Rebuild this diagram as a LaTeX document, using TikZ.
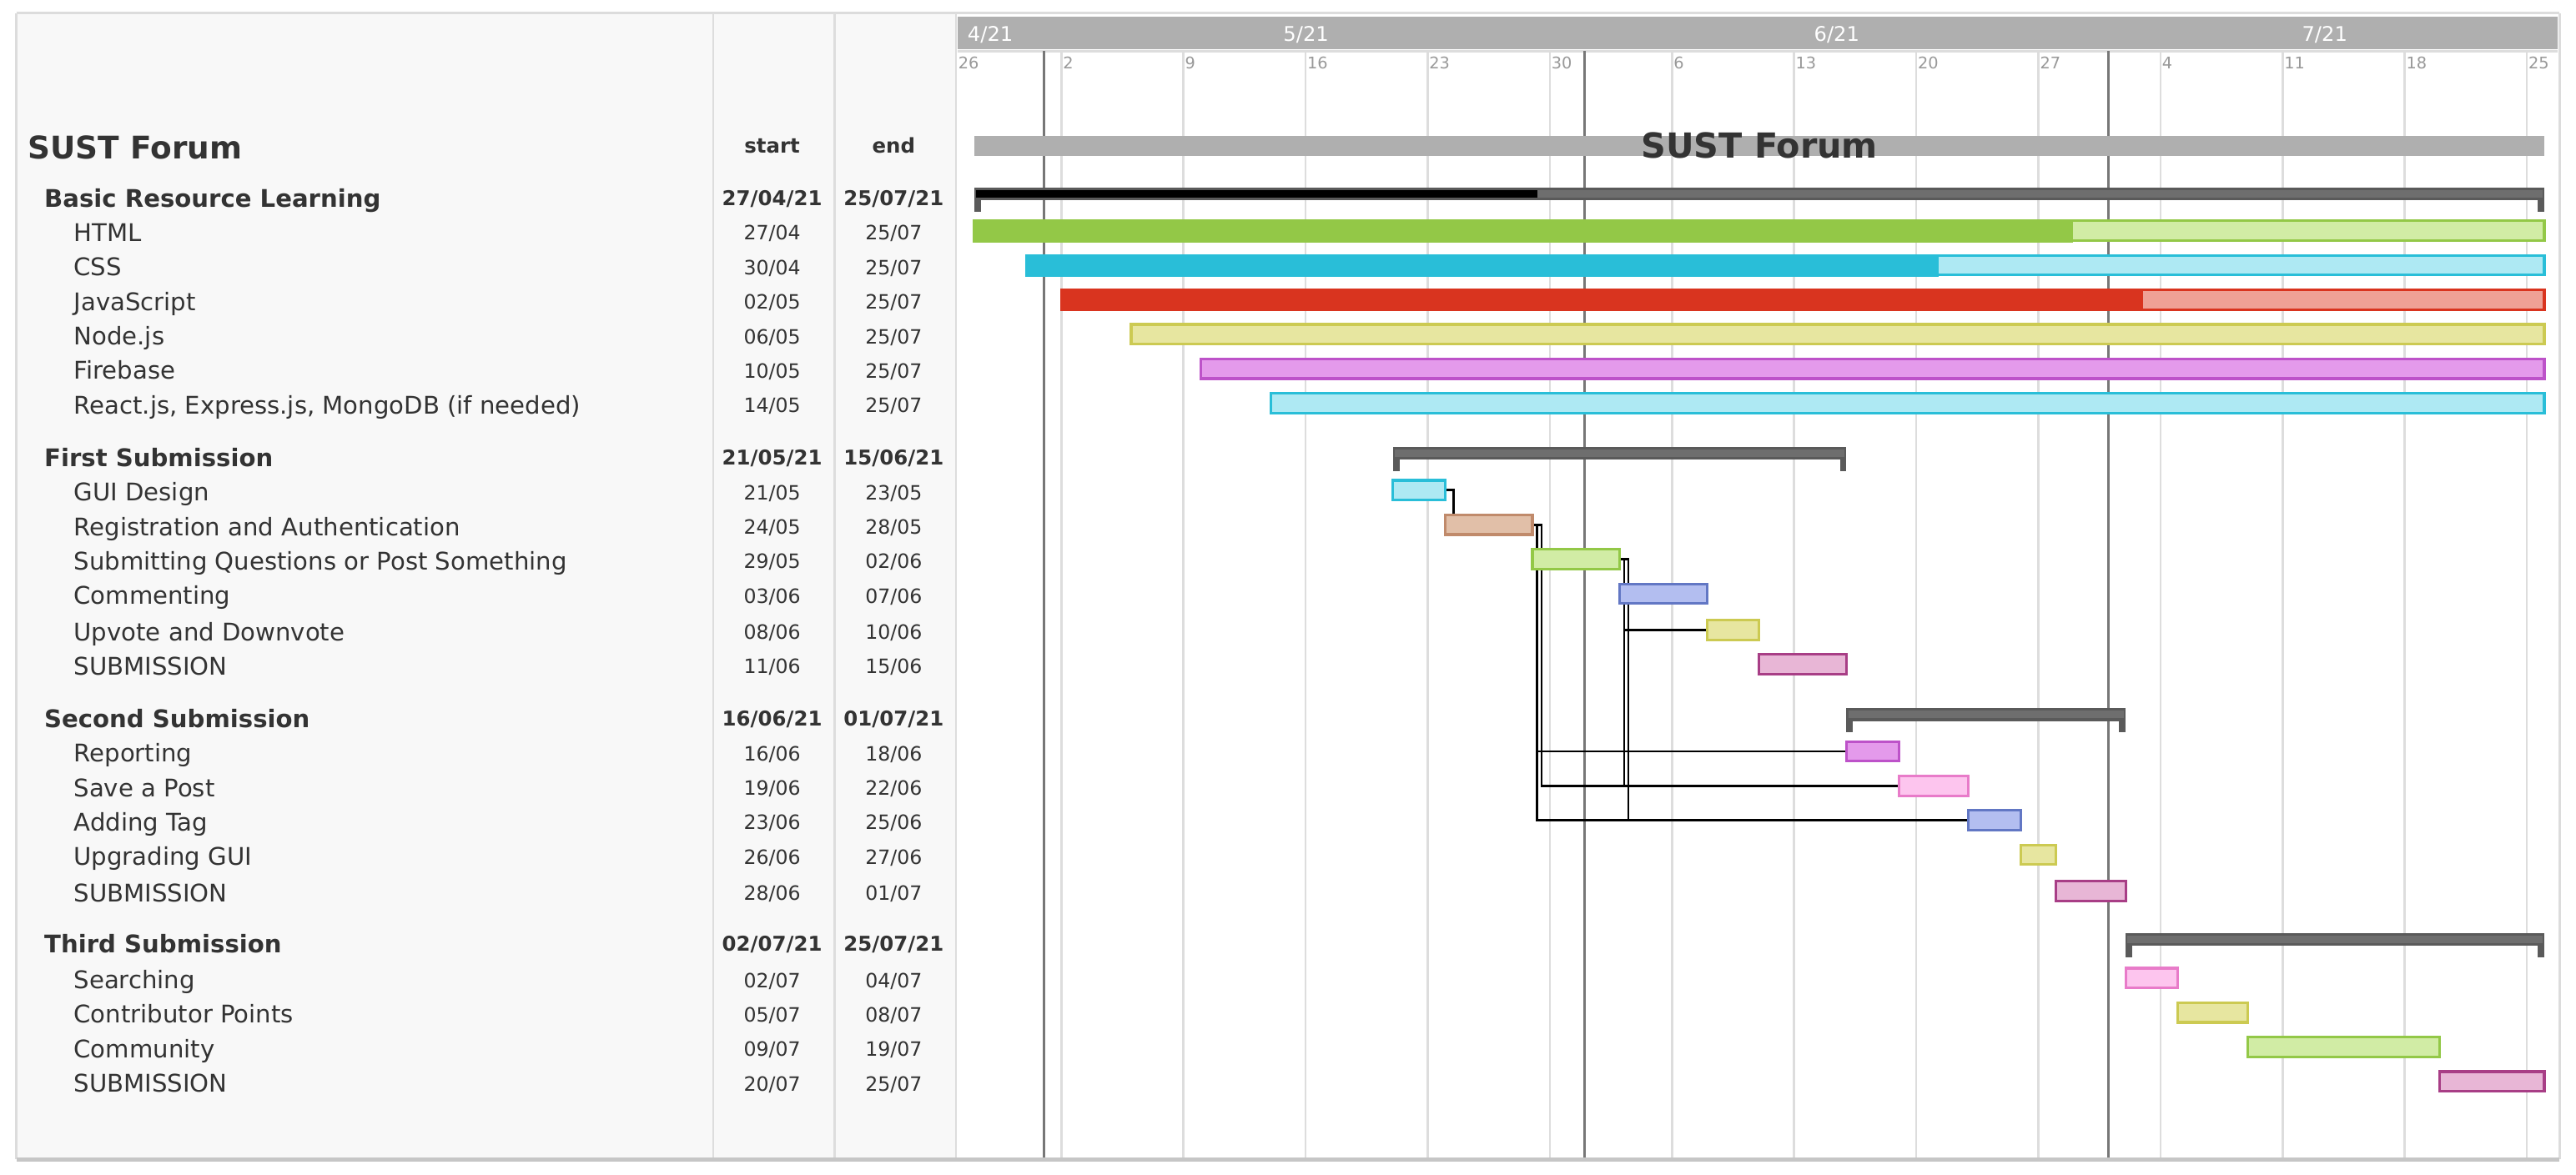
\documentclass[tikz,border=0pt]{standalone}
\usepackage{fontspec}
\setmainfont{DejaVu Sans}
\usetikzlibrary{calc}
\pgfdeclarelayer{grid}
\pgfdeclarelayer{conn}
\pgfsetlayers{grid,conn,main}
\definecolor{txt}{HTML}{333333}
\definecolor{panel}{HTML}{F8F8F8}
\definecolor{frame}{HTML}{DCDCDC}
\definecolor{hdr}{HTML}{AFAFAF}
\definecolor{gridc}{HTML}{DDDDDD}
\definecolor{monthc}{HTML}{777777}
\definecolor{dayc}{HTML}{999999}
\definecolor{sumD}{HTML}{5A5A5A}
\definecolor{sumL}{HTML}{6E6E6E}
\definecolor{grD}{HTML}{93C847}
\definecolor{grL}{HTML}{D1ECA5}
\definecolor{cyD}{HTML}{29BED8}
\definecolor{cyL}{HTML}{AEE9F3}
\definecolor{rdD}{HTML}{D9341F}
\definecolor{rdL}{HTML}{EFA196}
\definecolor{yeD}{HTML}{CCCA52}
\definecolor{yeL}{HTML}{E7E6A0}
\definecolor{maD}{HTML}{BD52C9}
\definecolor{maL}{HTML}{E49AEB}
\definecolor{brD}{HTML}{C08A6B}
\definecolor{brL}{HTML}{E1BFA8}
\definecolor{blD}{HTML}{6277C4}
\definecolor{blL}{HTML}{B3BEF0}
\definecolor{pkD}{HTML}{A83E86}
\definecolor{pkL}{HTML}{E8B6D6}
\definecolor{lpD}{HTML}{E87BC9}
\definecolor{lpL}{HTML}{FDC5EE}
\newcommand\DX[1]{582.3+10.62*(#1)}
% name, start day, end day (exclusive), row y, fill, border
\newcommand\taskbar[6]{%
  \node[bar,fill=#5,draw=#6,minimum width={10.62*(#3-#2)}] (#1) at ({\DX{#2}},#4-0.5) {};}
% progress bar: name, start, end, row, dark, light, progress day
\newcommand\progbar[7]{%
  \node[bar,fill=#6,draw=#5,minimum width={10.62*(#3-#2)}] (#1) at ({\DX{#2}},#4-0.5) {};
  \fill[#5] ([shift={(-0.8,-0.8)}]#1.north west) rectangle ({\DX{#7}},#4+6.55);}
% summary: name, start, end, row
\newcommand\sumbar[4]{%
  \node[sbar,minimum width={10.62*(#3-#2)}] (#1) at ({\DX{#2}},#4-2) {};
  \fill[sumL] ([shift={(1.2,1.6)}]#1.north west) rectangle ([shift={(-1.2,-1.6)}]#1.south east);
  \fill[sumD] (#1.south west) rectangle ([shift={(4,7)}]#1.south west);
  \fill[sumD] (#1.south east) rectangle ([shift={(-4,7)}]#1.south east);}
\begin{document}
\begin{tikzpicture}[x=1pt,y=-1pt,
  every node/.style={inner sep=0pt,outer sep=0pt},
  bar/.style={rectangle,anchor=west,minimum height=12,line width=1.6},
  sbar/.style={rectangle,anchor=west,minimum height=8,fill=sumD},
  tasktxt/.style={anchor=base west,text=txt,font=\fontsize{14.8}{17}\selectfont},
  grptxt/.style={anchor=base west,text=txt,font=\bfseries\fontsize{14.8}{17}\selectfont},
  datetxt/.style={anchor=base,text=txt,font=\fontsize{12}{14}\selectfont},
  gdatetxt/.style={anchor=base,text=txt,font=\bfseries\fontsize{12.4}{14}\selectfont},
  daytxt/.style={anchor=base west,text=dayc,font=\fontsize{9.8}{11}\selectfont},
  monthtxt/.style={anchor=base,text=white,font=\fontsize{12.3}{14}\selectfont},
  dep/.style={line width=1.4,black}]
\useasboundingbox (0,0) rectangle (1568,715);
% ---------- background, frame, grid ----------
\begin{pgfonlayer}{grid}
\fill[white] (0,0) rectangle (1568,715);
\fill[panel] (10,8) rectangle (582,706);
\draw[frame,line width=1.5] (10,8) -- (1558,8);
\draw[frame,line width=1.5] (10,8) -- (10,706);
\draw[frame,line width=1.5] (1558,8) -- (1558,706);
\draw[gridc,line width=1.2] (434,8) -- (434,706);
\draw[gridc,line width=1.2] (508,8) -- (508,706);
\draw[gridc,line width=1.2] (582,8) -- (582,706);
\fill[hdr] (583,10) rectangle (1557,30);
\draw[gridc,line width=1.5] (583,31) -- (1557,31);
\foreach \d in {6,13,...,90} {\draw[gridc,line width=1.3] ({\DX{\d}},31) -- ({\DX{\d}},706);}
\foreach \d in {5,36,66} {\draw[monthc,line width=1.5] ({\DX{\d}},31) -- ({\DX{\d}},706);}
\draw[gray!45,line width=2.2] (10,706) -- (1558,706);
\end{pgfonlayer}
% ---------- timeline labels ----------
\node[anchor=base west,text=white,font=\fontsize{12.3}{14}\selectfont] (m4) at (589,25) {4/21};
\node[monthtxt] (m5) at (795,25) {5/21};
\node[monthtxt] (m6) at (1118,25) {6/21};
\node[monthtxt] (m7) at (1415,25) {7/21};
\foreach \d/\l in {0/26,6/2,13/9,20/16,27/23,34/30,41/6,48/13,55/20,62/27,69/4,76/11,83/18,90/25}
  {\node[daytxt] (d\d) at ({\DX{\d}+1},42) {\l};}
% ---------- left panel ----------
\node[anchor=base west,text=txt,font=\bfseries\fontsize{19}{22}\selectfont] (title) at (17,96.5) {SUST Forum};
\node[gdatetxt] (hs) at (470,93) {start};
\node[gdatetxt] (he) at (544,93) {end};
\foreach \y/\n/\s/\e in {120/Basic Resource Learning/27\slash 04\slash 21/25\slash 07\slash 21,
  278/First Submission/21\slash 05\slash 21/15\slash 06\slash 21,
  437/Second Submission/16\slash 06\slash 21/01\slash 07\slash 21,
  574/Third Submission/02\slash 07\slash 21/25\slash 07\slash 21}
  {\node[grptxt] (g\y) at (27,\y+6) {\n};
   \node[gdatetxt] (g\y s) at (470,\y+5.2) {\s};
   \node[gdatetxt] (g\y e) at (544,\y+5.2) {\e};}
\foreach \y/\n/\s/\e in {141/HTML/27\slash 04/25\slash 07,
  162/CSS/30\slash 04/25\slash 07,
  183/JavaScript/02\slash 05/25\slash 07,
  204/Node.js/06\slash 05/25\slash 07,
  225/Firebase/10\slash 05/25\slash 07,
  246/{React.js, Express.js, MongoDB (if needed)}/14\slash 05/25\slash 07,
  299/GUI Design/21\slash 05/23\slash 05,
  320/Registration and Authentication/24\slash 05/28\slash 05,
  341/Submitting Questions or Post Something/29\slash 05/02\slash 06,
  362/Commenting/03\slash 06/07\slash 06,
  384/Upvote and Downvote/08\slash 06/10\slash 06,
  405/SUBMISSION/11\slash 06/15\slash 06,
  458/Reporting/16\slash 06/18\slash 06,
  479/Save a Post/19\slash 06/22\slash 06,
  500/Adding Tag/23\slash 06/25\slash 06,
  521/Upgrading GUI/26\slash 06/27\slash 06,
  543/SUBMISSION/28\slash 06/01\slash 07,
  596/Searching/02\slash 07/04\slash 07,
  617/Contributor Points/05\slash 07/08\slash 07,
  638/Community/09\slash 07/19\slash 07,
  659/SUBMISSION/20\slash 07/25\slash 07}
  {\node[tasktxt] (t\y) at (45,\y+6) {\n};
   \node[datetxt] (t\y s) at (470,\y+5.2) {\s};
   \node[datetxt] (t\y e) at (544,\y+5.2) {\e};}
% ---------- chart ----------
\node[rectangle,anchor=west,fill=hdr,minimum height=12,minimum width={10.62*90}] (proj) at ({\DX{1}},89) {};
\node[text=txt,font=\bfseries\fontsize{21}{24}\selectfont,anchor=base] (ptitle) at (1071,96) {SUST Forum};
\sumbar{s1}{1}{91}{120}
\fill[black] ([shift={(1.2,1.6)}]s1.north west) rectangle ({\DX{33.3}},120+0.4);
\progbar{html}{1}{91}{141}{grD}{grL}{64}
\progbar{css}{4}{91}{162}{cyD}{cyL}{56.3}
\progbar{js}{6}{91}{183}{rdD}{rdL}{68}
\taskbar{node}{10}{91}{204}{yeL}{yeD}
\taskbar{fire}{14}{91}{225}{maL}{maD}
\taskbar{react}{18}{91}{246}{cyL}{cyD}
\sumbar{s2}{25}{51}{278}
\taskbar{gui}{25}{28}{299}{cyL}{cyD}
\taskbar{reg}{28}{33}{320}{brL}{brD}
\taskbar{sub}{33}{38}{341}{grL}{grD}
\taskbar{com}{38}{43}{362}{blL}{blD}
\taskbar{upv}{43}{46}{384}{yeL}{yeD}
\taskbar{subm1}{46}{51}{405}{pkL}{pkD}
\sumbar{s3}{51}{67}{437}
\taskbar{rep}{51}{54}{458}{maL}{maD}
\taskbar{sav}{54}{58}{479}{lpL}{lpD}
\taskbar{add}{58}{61}{500}{blL}{blD}
\taskbar{upg}{61}{63}{521}{yeL}{yeD}
\taskbar{subm2}{63}{67}{543}{pkL}{pkD}
\sumbar{s4}{67}{91}{574}
\taskbar{srch}{67}{70}{596}{lpL}{lpD}
\taskbar{cont}{70}{74}{617}{yeL}{yeD}
\taskbar{comm}{74}{85}{638}{grL}{grD}
\taskbar{subm3}{85}{91}{659}{pkL}{pkD}
% ---------- dependencies ----------
\coordinate (gE) at ([xshift=5.3]gui.east);
\coordinate (rA) at ([xshift=2.7]reg.east);
\coordinate (rB) at ([xshift=5.6]reg.east);
\coordinate (sA) at ([xshift=2.7]sub.east);
\coordinate (sB) at ([xshift=5.3]sub.east);
\begin{pgfonlayer}{conn}
\draw[dep] (gui.east) -| (gE |- reg.north);
\draw[dep] (reg.east) -| (rB |- sub.north);
\draw[dep] (reg.east) -- (rA) |- (rep.west);
\draw[dep] (rB) |- (sav.west);
\draw[dep] (rA) |- (add.west);
\draw[dep] (sub.east) -| (sB |- com.north);
\draw[dep] (sub.east) -- (sA) |- (upv.west);
\draw[dep] (sA) |- (sav.west);
\draw[dep] (sB) |- (add.west);
\end{pgfonlayer}
\end{tikzpicture}
\end{document}
